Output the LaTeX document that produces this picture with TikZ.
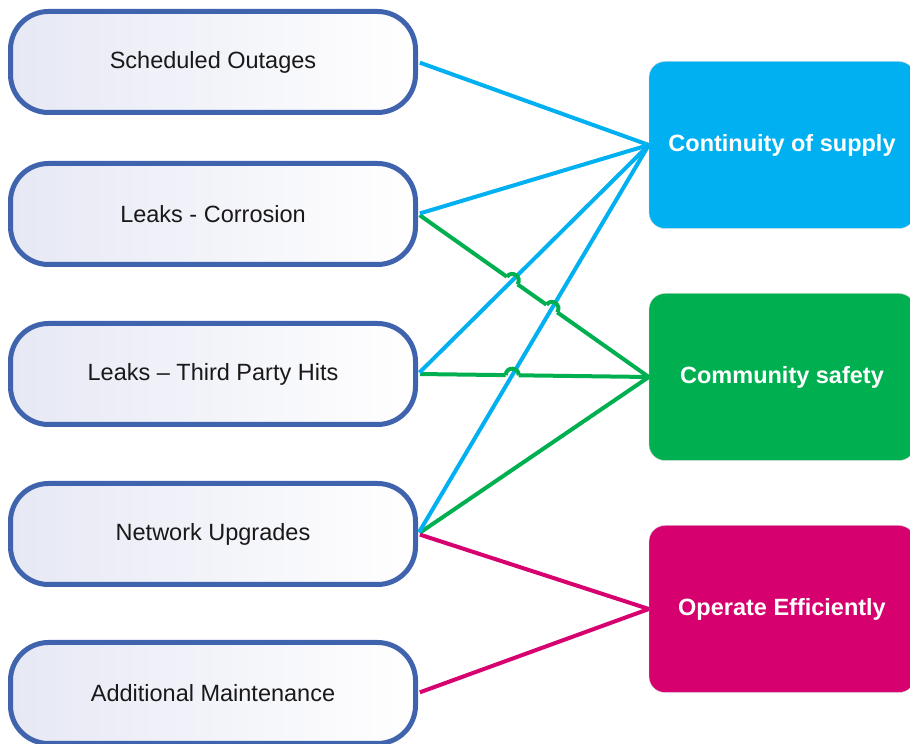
\documentclass[tikz,border=0pt]{standalone}
\usepackage{fontspec}
\setmainfont{Liberation Sans}
\usetikzlibrary{calc}

\definecolor{boxline}{HTML}{3F63AD}
\definecolor{boxfill}{HTML}{E6E8F4}
\definecolor{supplyblue}{HTML}{00B0F0}
\definecolor{safetygreen}{HTML}{00B050}
\definecolor{effmagenta}{HTML}{D6006F}

\begin{document}
\begin{tikzpicture}[x=1pt,y=1pt]
        \useasboundingbox (0,0) rectangle (910,744);

        % causes on the left
        \begin{scope}[every node/.style={draw=boxline,line width=5pt,rounded corners=38pt,
                    left color=boxfill,right color=white,minimum width=405pt,minimum height=101pt,
                    font=\fontsize{23.5}{28}\selectfont,text=black!90}]
            \node (so) at (213,682) {Scheduled Outages};
            \node (lc) at (213,530) {Leaks - Corrosion};
            \node (tp) at (213,370) {Leaks -- Third Party Hits};
            \node (nu) at (213,210) {Network Upgrades};
            \node (am) at (213,51) {Additional Maintenance};
        \end{scope}

        % outcomes on the right
        \begin{scope}[every node/.style={draw=black!15,thin,rounded corners=16pt,
                    minimum width=266pt,minimum height=167pt,
                    font=\fontsize{23.5}{28}\selectfont\bfseries,text=white}]
            \node[fill=supplyblue] (cs) at (782,599) {Continuity of supply};
            \node[fill=safetygreen] (cm) at (782,367) {Community safety};
            \node[fill=effmagenta] (oe) at (782,135) {Operate Efficiently};
        \end{scope}

        % crossing points of green and blue links
        \coordinate (j1) at (intersection of lc.east--cm.west and tp.east--cs.west);
        \coordinate (j2) at (intersection of lc.east--cm.west and nu.east--cs.west);
        \coordinate (j3) at (intersection of tp.east--cm.west and nu.east--cs.west);

        \begin{scope}[every edge/.style={draw,line width=4pt,shorten <=2pt}]
            \path [-,safetygreen] (lc.east) edge (cm.west);
            \path [-,safetygreen] (tp.east) edge (cm.west);
            \path [-,safetygreen] (nu.east) edge (cm.west);
            \path [-,effmagenta] (nu.east) edge (oe.west);
            \path [-,effmagenta] (am.east) edge (oe.west);

            % gaps for the hops
            \path [-,white] ($(j1)!6.5pt!(lc.east)$) edge[line width=5.5pt,shorten <=0pt] ($(j1)!6.5pt!(cm.west)$);
            \path [-,white] ($(j2)!6.5pt!(lc.east)$) edge[line width=5.5pt,shorten <=0pt] ($(j2)!6.5pt!(cm.west)$);
            \path [-,white] ($(j3)!6.5pt!(tp.east)$) edge[line width=5.5pt,shorten <=0pt] ($(j3)!6.5pt!(cm.west)$);

            \path [-,supplyblue] (so.east) edge (cs.west);
            \path [-,supplyblue] (lc.east) edge (cs.west);
            \path [-,supplyblue] (tp.east) edge (cs.west);
            \path [-,supplyblue] (nu.east) edge (cs.west);

            % hops of the green links over the blue ones
            \path [-,safetygreen] ($(j1)!6.5pt!(lc.east)$) edge[bend left=90,looseness=1.7,shorten <=0pt] ($(j1)!6.5pt!(cm.west)$);
            \path [-,safetygreen] ($(j2)!6.5pt!(lc.east)$) edge[bend left=90,looseness=1.7,shorten <=0pt] ($(j2)!6.5pt!(cm.west)$);
            \path [-,safetygreen] ($(j3)!6.5pt!(tp.east)$) edge[bend left=90,looseness=1.7,shorten <=0pt] ($(j3)!6.5pt!(cm.west)$);
        \end{scope}
    \end{tikzpicture}
\end{document}
